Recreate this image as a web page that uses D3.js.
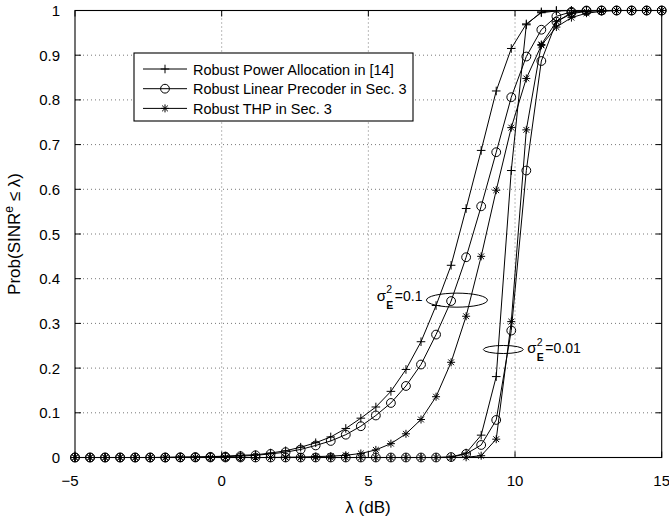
<!DOCTYPE html>
<html>
<head>
<meta charset="utf-8">
<script src="https://cdn.jsdelivr.net/npm/d3@7"></script>
<style>
  body { margin: 0; background: #fff; }
  text { font-family: "Liberation Sans", Arial, Helvetica, sans-serif; fill: #000; }
</style>
</head>
<body>
<svg id="chart" width="669" height="521"></svg>
<script>
// SINR threshold grid (dB), 40 points from -5 to 15
const lambdaDb = [-5, -4.487, -3.974, -3.462, -2.949, -2.436, -1.923, -1.410, -0.897, -0.385,
  0.128, 0.641, 1.154, 1.667, 2.179, 2.692, 3.205, 3.718, 4.231, 4.744,
  5.256, 5.769, 6.282, 6.795, 7.308, 7.821, 8.333, 8.846, 9.359, 9.872,
  10.385, 10.897, 11.410, 11.923, 12.436, 12.949, 13.462, 13.974, 14.487, 15];

// CDF values, error variance 0.1
const powerAlloc_s01 = [0, 0, 0, 0, 0, 0, 0.0005, 0.001, 0.001, 0.002,
  0.003, 0.005, 0.006, 0.010, 0.015, 0.023, 0.033, 0.046, 0.065, 0.088,
  0.113, 0.148, 0.197, 0.259, 0.340, 0.430, 0.557, 0.687, 0.820, 0.915,
  0.970, 0.995, 0.999, 1, 1, 1, 1, 1, 1, 1];
const linearPrec_s01 = [0, 0, 0, 0, 0, 0, 0, 0.0005, 0.001, 0.0015,
  0.002, 0.003, 0.005, 0.008, 0.012, 0.018, 0.027, 0.037, 0.051, 0.070,
  0.094, 0.122, 0.160, 0.208, 0.275, 0.350, 0.448, 0.562, 0.683, 0.806,
  0.897, 0.957, 0.987, 0.997, 1, 1, 1, 1, 1, 1];
const thp_s01 = [0, 0, 0, 0, 0, 0, 0, 0, 0, 0,
  0, 0, 0, 0, 0.0005, 0.001, 0.002, 0.003, 0.005, 0.009,
  0.017, 0.031, 0.053, 0.085, 0.136, 0.213, 0.316, 0.450, 0.598, 0.738,
  0.848, 0.922, 0.963, 0.984, 0.994, 0.998, 1, 1, 1, 1];

// CDF values, error variance 0.01
const powerAlloc_s001 = [0, 0, 0, 0, 0, 0, 0, 0, 0, 0,
  0, 0, 0, 0, 0, 0, 0, 0, 0, 0,
  0, 0, 0, 0, 0, 0.001, 0.010, 0.050, 0.181, 0.642,
  0.968, 0.997, 1, 1, 1, 1, 1, 1, 1, 1];
const linearPrec_s001 = [0, 0, 0, 0, 0, 0, 0, 0, 0, 0,
  0, 0, 0, 0, 0, 0, 0, 0, 0, 0,
  0, 0, 0, 0, 0, 0.001, 0.008, 0.028, 0.084, 0.284,
  0.642, 0.887, 0.975, 0.995, 0.999, 1, 1, 1, 1, 1];
const thp_s001 = [0, 0, 0, 0, 0, 0, 0, 0, 0, 0,
  0, 0, 0, 0, 0, 0, 0, 0, 0, 0,
  0, 0, 0, 0, 0, 0, 0.0005, 0.004, 0.041, 0.304,
  0.733, 0.924, 0.975, 0.993, 0.998, 1, 1, 1, 1, 1];

const legendLabels = ["Robust Power Allocation in [14]", "Robust Linear Precoder in Sec. 3", "Robust THP in Sec. 3"];
const markerKinds = ["plus", "circle", "star"];

const xTicks = [-5, 0, 5, 10, 15];
const xTickLabels = ["\u22125", "0", "5", "10", "15"];
const yTicks = [0, 0.1, 0.2, 0.3, 0.4, 0.5, 0.6, 0.7, 0.8, 0.9, 1];
const yTickLabels = ["0", "0.1", "0.2", "0.3", "0.4", "0.5", "0.6", "0.7", "0.8", "0.9", "1"];

// annotation ellipses: centre (dB, prob), half-widths (dB, prob)
const ellipseCentersX = [8.02, 9.60];
const ellipseCentersY = [0.352, 0.2416];
const ellipseRadiiX = [1.04, 0.68];
const ellipseRadiiY = [0.0157, 0.009];
const annotValues = ["0.1", "0.01"];
const annotX = [5.29, 10.42];
const annotY = [0.351, 0.233];

const series = [
  { kind: "plus", values: powerAlloc_s01 },
  { kind: "circle", values: linearPrec_s01 },
  { kind: "star", values: thp_s01 },
  { kind: "plus", values: powerAlloc_s001 },
  { kind: "circle", values: linearPrec_s001 },
  { kind: "star", values: thp_s001 }
];

const svg = d3.select("#chart");
const plotLeft = 75, plotRight = 661.7, plotTop = 10.5, plotBottom = 457.5;

const x = d3.scaleLinear().domain([-5, 15]).range([plotLeft, plotRight]);
const y = d3.scaleLinear().domain([0, 1]).range([plotBottom, plotTop]);

// grid
const grid = svg.append("g").attr("stroke", "#555").attr("stroke-width", 0.8)
  .attr("stroke-dasharray", "1,3");
xTicks.filter(v => v > -5 && v < 15).forEach(v => {
  grid.append("line").attr("x1", x(v)).attr("x2", x(v)).attr("y1", plotTop).attr("y2", plotBottom);
});
yTicks.filter(v => v > 0 && v < 1).forEach(v => {
  grid.append("line").attr("x1", plotLeft).attr("x2", plotRight).attr("y1", y(v)).attr("y2", y(v));
});

function markerPath(kind, s) {
  if (kind === "plus") return `M${-s},0H${s}M0,${-s}V${s}`;
  if (kind === "star") {
    const d = s * 0.72;
    return `M${-s},0H${s}M0,${-s}V${s}M${-d},${-d}L${d},${d}M${-d},${d}L${d},${-d}`;
  }
  return d3.symbol().type(d3.symbolCircle).size(Math.PI * s * s)();
}
const markerSize = { plus: 4.3, star: 4.0, circle: 4.4 };

const line = d3.line().x((d, i) => x(lambdaDb[i])).y(d => y(d));

const curves = svg.append("g");
series.forEach(s => {
  curves.append("path").datum(s.values).attr("d", line)
    .attr("fill", "none").attr("stroke", "#000").attr("stroke-width", 1);
});
series.forEach(s => {
  curves.append("g").selectAll("path").data(s.values).join("path")
    .attr("transform", (d, i) => `translate(${x(lambdaDb[i])},${y(d)})`)
    .attr("d", markerPath(s.kind, markerSize[s.kind]))
    .attr("fill", "none").attr("stroke", "#000").attr("stroke-width", 1);
});

// axes box with inward ticks
const axisG = svg.append("g");
axisG.append("rect").attr("x", plotLeft).attr("y", plotTop)
  .attr("width", plotRight - plotLeft).attr("height", plotBottom - plotTop)
  .attr("fill", "none").attr("stroke", "#000").attr("stroke-width", 1.1);
const tl = 6;
xTicks.forEach(v => {
  axisG.append("line").attr("x1", x(v)).attr("x2", x(v)).attr("y1", plotBottom).attr("y2", plotBottom - tl).attr("stroke", "#000");
  axisG.append("line").attr("x1", x(v)).attr("x2", x(v)).attr("y1", plotTop).attr("y2", plotTop + tl).attr("stroke", "#000");
});
yTicks.forEach(v => {
  axisG.append("line").attr("x1", plotLeft).attr("x2", plotLeft + tl).attr("y1", y(v)).attr("y2", y(v)).attr("stroke", "#000");
  axisG.append("line").attr("x1", plotRight).attr("x2", plotRight - tl).attr("y1", y(v)).attr("y2", y(v)).attr("stroke", "#000");
});

// tick labels
xTicks.forEach((v, i) => {
  axisG.append("text").attr("x", x(v) - (v < 0 ? 5 : 0)).attr("y", plotBottom + 28.5)
    .attr("text-anchor", "middle").attr("font-size", 15).text(xTickLabels[i]);
});
yTicks.forEach((v, i) => {
  axisG.append("text").attr("x", plotLeft - 15).attr("y", y(v) + 5.5).attr("text-anchor", "end")
    .attr("font-size", 15).text(yTickLabels[i]);
});

// axis titles
svg.append("text").attr("x", 368).attr("y", 513).attr("text-anchor", "middle")
  .attr("font-size", 17).text("\u03bb (dB)");
const yl = svg.append("text").attr("transform", `translate(20,${(plotTop + plotBottom) / 2}) rotate(-90)`)
  .attr("text-anchor", "middle").attr("font-size", 17);
yl.append("tspan").text("Prob(SINR");
yl.append("tspan").attr("dy", -7).attr("font-size", 12).text("e");
yl.append("tspan").attr("dy", 7).text(" \u2264 \u03bb)");

// legend
const lg = svg.append("g");
lg.append("rect").attr("x", 134).attr("y", 53).attr("width", 279).attr("height", 68)
  .attr("fill", "#fff").attr("stroke", "#000").attr("stroke-width", 1.1);
legendLabels.forEach((lab, i) => {
  const yy = 69 + i * 19.7;
  lg.append("line").attr("x1", 143).attr("x2", 187).attr("y1", yy).attr("y2", yy)
    .attr("stroke", "#000").attr("stroke-width", 1);
  lg.append("path").attr("transform", `translate(165,${yy})`)
    .attr("d", markerPath(markerKinds[i], markerSize[markerKinds[i]]))
    .attr("fill", "none").attr("stroke", "#000").attr("stroke-width", 1);
  lg.append("text").attr("x", 193).attr("y", yy + 5.5).attr("font-size", 14.5).text(lab);
});

// variance annotations
const ann = svg.append("g");
ellipseCentersX.forEach((cx, i) => {
  ann.append("ellipse").attr("cx", x(cx)).attr("cy", y(ellipseCentersY[i]))
    .attr("rx", x(cx + ellipseRadiiX[i]) - x(cx)).attr("ry", y(0) - y(ellipseRadiiY[i]))
    .attr("fill", "none").attr("stroke", "#000").attr("stroke-width", 1);
  const ax = x(annotX[i]), ay = y(annotY[i]);
  ann.append("text").attr("x", ax).attr("y", ay).attr("font-size", 15).text("\u03c3");
  ann.append("text").attr("x", ax + 9.5).attr("y", ay - 7.5).attr("font-size", 10.5).text("2");
  ann.append("text").attr("x", ax + 9.5).attr("y", ay + 8).attr("font-size", 10.5).attr("font-weight", "bold").text("E");
  ann.append("text").attr("x", ax + 18).attr("y", ay).attr("font-size", 14).text("=" + annotValues[i]);
});
</script>
</body>
</html>
